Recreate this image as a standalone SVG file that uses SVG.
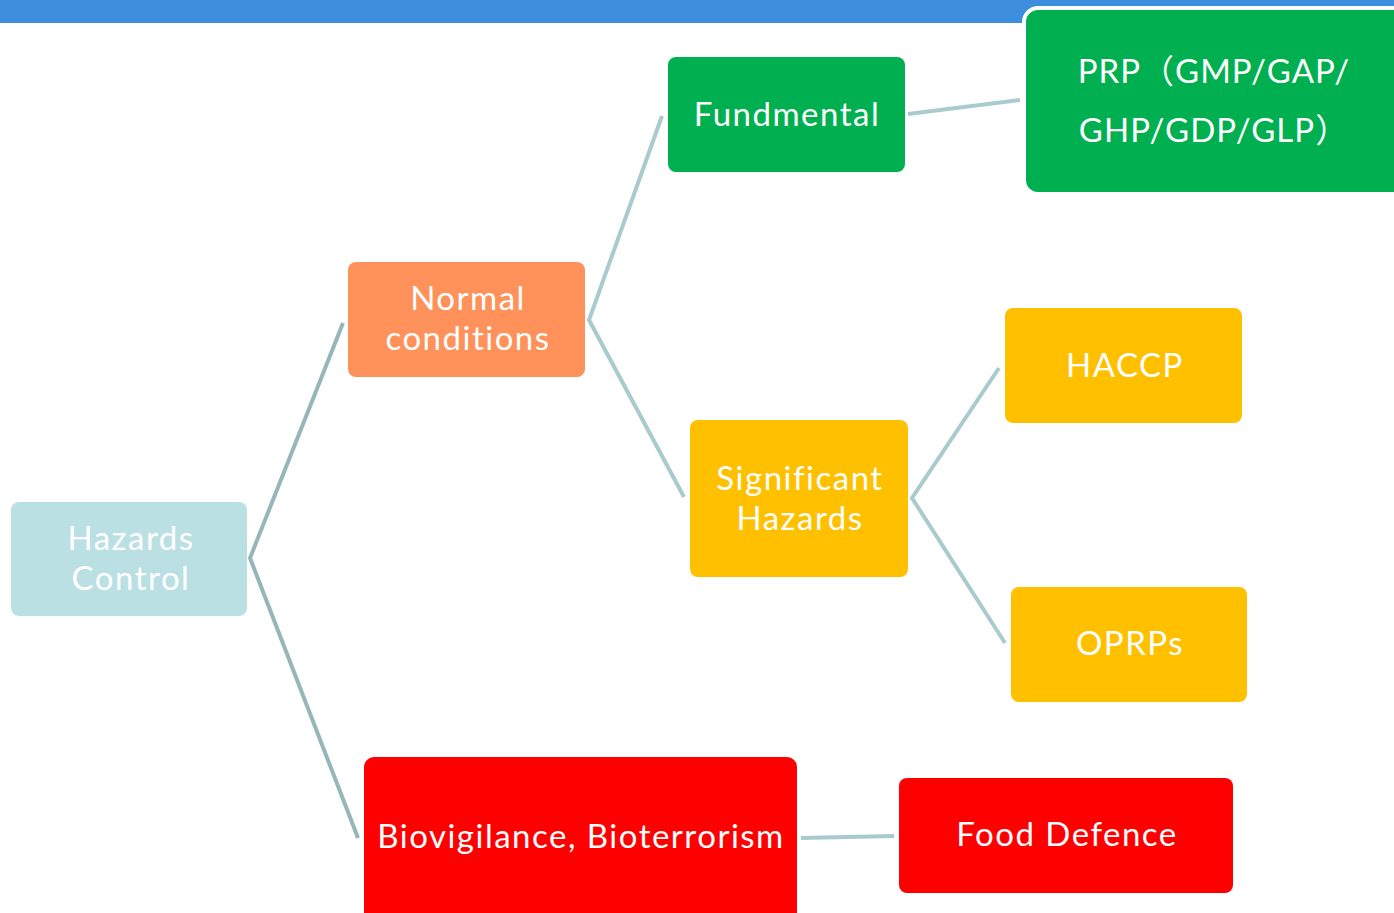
<svg xmlns="http://www.w3.org/2000/svg" width="1394" height="913" viewBox="0 0 1394 913">
<style>
text{font-family:Lato,"Noto Sans CJK SC",sans-serif;font-size:33px;letter-spacing:1.5px;fill:#fff;text-anchor:middle;dominant-baseline:central}
.c{stroke:#a9cbcf;stroke-width:4;fill:none;stroke-linecap:butt}
.d{stroke:#97b6b9}
</style>
<rect x="0" y="0" width="1394" height="23" fill="#3d8fdd"/>
<g id="connectors">
<path class="c d" d="M343 323 L250 558 L358 838"/>
<path class="c" d="M662 116 L589 320 L684 497"/>
<path class="c" d="M908 114 L1020 100"/>
<path class="c" d="M999 368 L912 498 L1005 643"/>
<path class="c" d="M801 838 L894 836"/>
</g>
<g id="hazards"><rect x="11" y="502" width="236" height="114" rx="8" fill="#bbe0e3"/><text><tspan x="131" y="537">Hazards</tspan><tspan x="131" y="577">Control</tspan></text></g>
<g id="normal"><rect x="348" y="262" width="237" height="115" rx="8" fill="#ff915a"/><text><tspan x="468" y="297">Normal</tspan><tspan x="468" y="337">conditions</tspan></text></g>
<g id="fundmental"><rect x="668" y="57" width="237" height="115" rx="8" fill="#00b050"/><text x="787" y="113">Fundmental</text></g>
<g id="prp"><rect x="1024" y="8" width="390" height="186" rx="14" fill="#00b050" stroke="#fff" stroke-width="4"/><text><tspan x="1214" y="70" letter-spacing="1px">PRP（GMP/GAP/</tspan><tspan x="1214" y="129" letter-spacing="1px">GHP/GDP/GLP）</tspan></text></g>
<g id="significant"><rect x="690" y="420" width="218" height="157" rx="8" fill="#ffc000"/><text><tspan x="800" y="477">Significant</tspan><tspan x="800" y="517">Hazards</tspan></text></g>
<g id="haccp"><rect x="1005" y="308" width="237" height="115" rx="8" fill="#ffc000"/><text x="1125" y="364">HACCP</text></g>
<g id="oprps"><rect x="1011" y="587" width="236" height="115" rx="8" fill="#ffc000"/><text x="1130" y="642">OPRPs</text></g>
<g id="bio"><rect x="364" y="757" width="433" height="170" rx="10" fill="#ff0000"/><text x="581" y="835">Biovigilance, Bioterrorism</text></g>
<g id="food"><rect x="899" y="778" width="334" height="115" rx="8" fill="#ff0000"/><text x="1067" y="833">Food Defence</text></g>
</svg>
